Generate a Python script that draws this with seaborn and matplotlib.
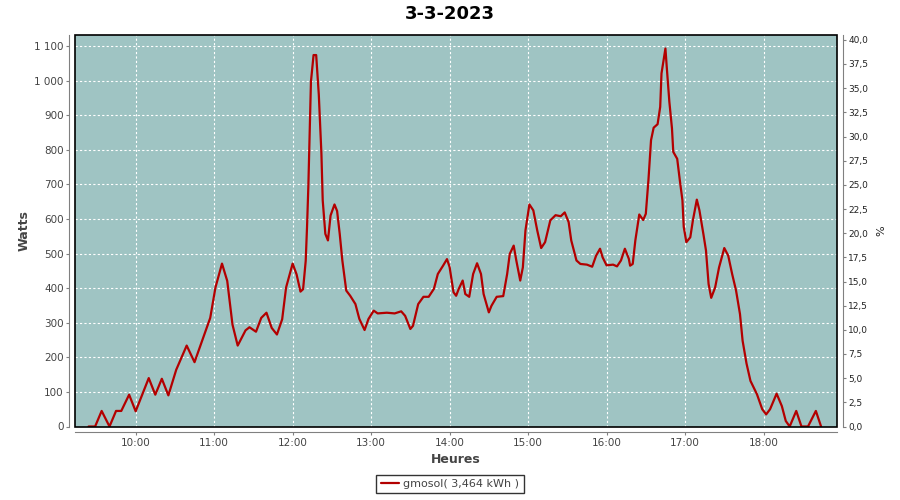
import numpy as np
import pandas as pd
import matplotlib
matplotlib.use("Agg")
import matplotlib.pyplot as plt
import matplotlib.dates as mdates
from matplotlib.patches import Rectangle
from matplotlib.ticker import FuncFormatter, MultipleLocator
import seaborn as sns

# values (time of day, watts)
times = ["09:24", "09:29", "09:34", "09:40", "09:45", "09:49", "09:55", "10:00", "10:10", "10:15",
         "10:20", "10:25", "10:31", "10:39", "10:45", "10:52", "10:57", "11:01", "11:06", "11:10",
         "11:14", "11:18", "11:24", "11:27", "11:32", "11:36", "11:40", "11:44", "11:48", "11:52",
         "11:55", "12:00", "12:03", "12:06", "12:08", "12:10", "12:11", "12:12", "12:13", "12:14",
         "12:16", "12:18", "12:20", "12:22", "12:23", "12:25", "12:27", "12:29", "12:32", "12:34",
         "12:36", "12:38", "12:41", "12:44", "12:48", "12:51", "12:55", "12:58", "13:02", "13:05",
         "13:12", "13:18", "13:23", "13:26", "13:30", "13:32", "13:36", "13:40", "13:44", "13:48",
         "13:51", "13:55", "13:58", "14:00", "14:03", "14:05", "14:07", "14:10", "14:12", "14:15",
         "14:18", "14:21", "14:24", "14:26", "14:30", "14:32", "14:36", "14:41", "14:44", "14:46",
         "14:49", "14:51", "14:54", "14:56", "14:58", "15:01", "15:04", "15:07", "15:10", "15:13",
         "15:17", "15:21", "15:25", "15:28", "15:31", "15:33", "15:37", "15:40", "15:45", "15:49",
         "15:52", "15:55", "15:57", "16:00", "16:05", "16:08", "16:11", "16:14", "16:17", "16:18",
         "16:20", "16:22", "16:25", "16:28", "16:30", "16:32", "16:34", "16:36", "16:39", "16:41",
         "16:42", "16:44", "16:45", "16:46", "16:48", "16:50", "16:51", "16:54", "16:56", "16:58",
         "16:59", "17:01", "17:04", "17:06", "17:09", "17:11", "17:14", "17:16", "17:18", "17:20",
         "17:23", "17:26", "17:30", "17:33", "17:36", "17:39", "17:42", "17:44", "17:47", "17:50",
         "17:55", "17:59", "18:02", "18:05", "18:10", "18:14", "18:17", "18:20", "18:25", "18:29",
         "18:34", "18:40", "18:44"]
watts = [0, 0, 45, 0, 45, 45, 92, 44, 140, 92,
         138, 90, 164, 234, 186, 261, 314, 402, 471, 421,
         295, 234, 278, 287, 274, 314, 329, 285, 266, 310,
         402, 471, 440, 390, 397, 479, 576, 692, 847, 997,
         1074, 1074, 960, 789, 654, 557, 538, 610, 642, 623,
         557, 480, 393, 378, 354, 311, 279, 311, 335, 327,
         329, 327, 333, 320, 282, 291, 354, 375, 375, 398,
         441, 465, 484, 461, 388, 378, 398, 422, 383, 375,
         441, 472, 441, 383, 330, 349, 375, 377, 441, 499,
         523, 480, 422, 460, 567, 642, 625, 567, 516, 533,
         596, 611, 608, 619, 591, 538, 480, 470, 468, 462,
         494, 514, 489, 466, 468, 463, 480, 514, 485, 465,
         470, 538, 613, 597, 615, 712, 828, 864, 874, 924,
         1021, 1069, 1093, 1040, 939, 862, 794, 774, 712, 654,
         577, 533, 547, 596, 656, 625, 557, 509, 412, 372,
         402, 460, 516, 494, 441, 393, 325, 248, 182, 132,
         93, 50, 35, 50, 95, 59, 16, 0, 45, 0,
         0, 45, 0]

day = "2023-03-03"
title = "3-3-2023"
series_label = "gmosol( 3,464 kWh )"

df = pd.DataFrame({"t": pd.to_datetime([day + " " + s for s in times]), "w": watts})

sns.set_style("ticks")
plt.rcParams["font.family"] = ["DejaVu Sans"]

fig = plt.figure(figsize=(9, 5), dpi=100, facecolor="white")
ax = fig.add_axes([0.0833, 0.147, 0.8467, 0.783])
ax.set_facecolor("#9fc4c3")

sns.lineplot(data=df, x="t", y="w", ax=ax, color="#b30000", linewidth=1.6,
             label=series_label, legend=False, zorder=3)

ax.set_xlim(pd.Timestamp(day + " 09:13:36"), pd.Timestamp(day + " 18:56:10"))
ax.set_ylim(0, 1132)
ax.xaxis.set_major_locator(mdates.HourLocator())
ax.xaxis.set_major_formatter(mdates.DateFormatter("%H:%M"))
ax.yaxis.set_major_locator(MultipleLocator(100))
ax.yaxis.set_major_formatter(FuncFormatter(lambda v, p: f"{int(v):,}".replace(",", " ")))

ax.grid(True, color="white", linestyle=(0, (2, 2)), linewidth=0.8)
ax.set_axisbelow(True)

gray = "#808080"
for side in ["left", "bottom"]:
    ax.spines[side].set_position(("outward", 4))
    ax.spines[side].set_color(gray)
ax.spines["top"].set_visible(False)
ax.spines["right"].set_visible(False)
ax.tick_params(axis="both", colors=gray, length=2, width=0.8, labelsize=7.5,
               labelcolor="#444444", pad=2)
ax.add_patch(Rectangle((0, 0), 1, 1, transform=ax.transAxes, fill=False,
                       edgecolor="black", linewidth=1.2, clip_on=False, zorder=5))

ax.set_xlabel("Heures", fontsize=9, fontweight="bold", color="#444444", labelpad=4)
ax.set_ylabel("Watts", fontsize=9, fontweight="bold", color="#444444", labelpad=3)

ax2 = ax.twinx()
ax2.set_ylim(0, 40.5)
ax2.yaxis.set_major_locator(MultipleLocator(2.5))
ax2.yaxis.set_major_formatter(FuncFormatter(lambda v, p: f"{v:.1f}".replace(".", ",")))
for side in ["left", "bottom", "top"]:
    ax2.spines[side].set_visible(False)
ax2.spines["right"].set_position(("outward", 4))
ax2.spines["right"].set_color(gray)
ax2.tick_params(axis="y", colors=gray, length=2, width=0.8, labelsize=6.5,
                labelcolor="#222222", pad=2)
ax2.set_ylabel("%", fontsize=8, color="#222222", labelpad=6)

fig.text(0.5, 0.972, title, ha="center", va="center", fontsize=13, fontweight="bold",
         color="black")

handles, labels = ax.get_legend_handles_labels()
leg = fig.legend(handles, labels, loc="lower center", bbox_to_anchor=(0.5, 0.002),
                 frameon=True, fancybox=False, edgecolor="black", fontsize=8,
                 handlelength=1.6, handletextpad=0.4, borderpad=0.4, labelcolor="#444444")
leg.get_frame().set_linewidth(1.0)

fig.savefig("out.png", dpi=100, facecolor="white")
